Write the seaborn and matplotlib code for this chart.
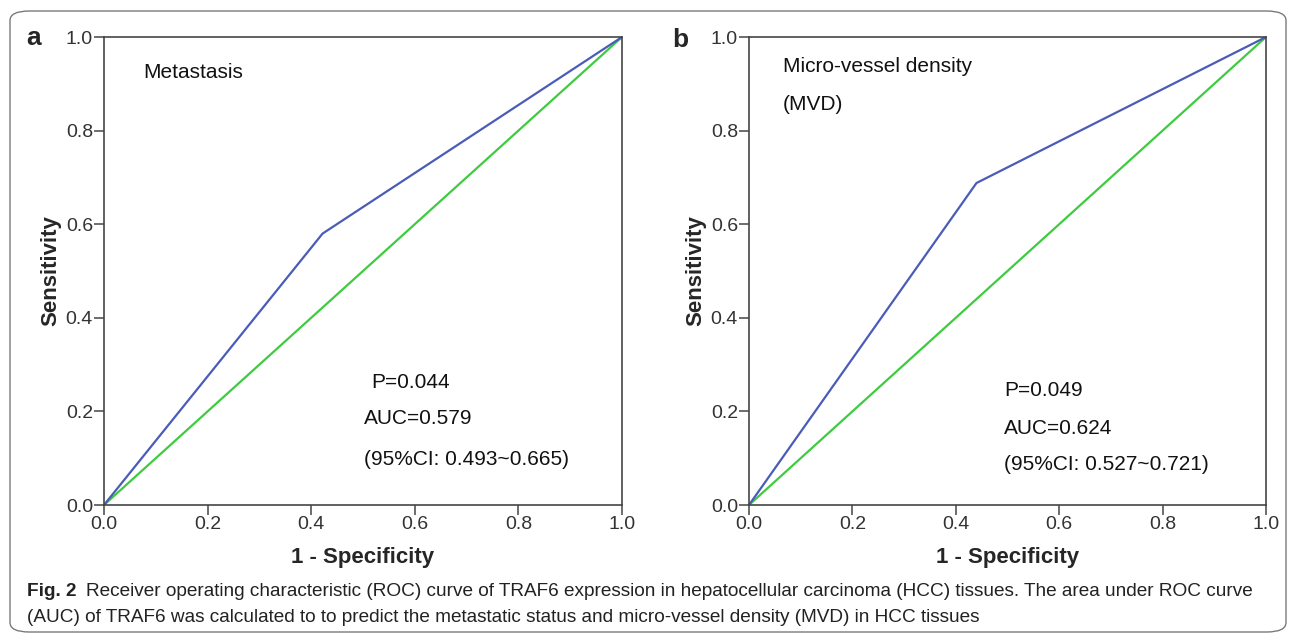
import numpy as np
import pandas as pd
import matplotlib
matplotlib.use("Agg")
import matplotlib.pyplot as plt
import seaborn as sns
from matplotlib.patches import FancyBboxPatch

# ROC points (1 - specificity, sensitivity)
fpr_a = [0.0, 0.422, 1.0]
tpr_a = [0.0, 0.580, 1.0]
fpr_b = [0.0, 0.440, 1.0]
tpr_b = [0.0, 0.688, 1.0]
ref_line = [0.0, 1.0]

ticks = [0.0, 0.2, 0.4, 0.6, 0.8, 1.0]
tick_labels = ["0.0", "0.2", "0.4", "0.6", "0.8", "1.0"]

titles_a = ["Metastasis"]
titles_b = ["Micro-vessel density", "(MVD)"]
stats_a = ["P=0.044", "AUC=0.579", "(95%CI: 0.493~0.665)"]
stats_b = ["P=0.049", "AUC=0.624", "(95%CI: 0.527~0.721)"]

sns.set_style("white")
plt.rcParams["font.family"] = ["Liberation Sans", "DejaVu Sans"]

blue = "#4b5cb8"
green = "#3fcb3f"
spine_c = "#454545"

fig = plt.figure(figsize=(12.95, 6.34), dpi=100)

# rounded frame around figure
frame = FancyBboxPatch((10 / 1295, 2 / 634), 1276 / 1295, 621 / 634,
                       boxstyle="round,pad=0,rounding_size=0.015",
                       transform=fig.transFigure, fill=False,
                       edgecolor="#7a7a7a", linewidth=1.0)
fig.patches.append(frame)

ax_a = fig.add_axes([104 / 1295, 129 / 634, 518 / 1295, 468 / 634])
ax_b = fig.add_axes([749 / 1295, 129 / 634, 517 / 1295, 468 / 634])


def draw_panel(ax, fpr, tpr):
    df = pd.DataFrame({"fpr": fpr, "tpr": tpr})
    ref = pd.DataFrame({"x": ref_line, "y": ref_line})
    sns.lineplot(data=ref, x="x", y="y", ax=ax, color=green, lw=1.6,
                 estimator=None, sort=False)
    sns.lineplot(data=df, x="fpr", y="tpr", ax=ax, color=blue, lw=1.6,
                 estimator=None, sort=False)
    ax.set_xlim(0, 1)
    ax.set_ylim(0, 1)
    ax.set_xticks(ticks)
    ax.set_yticks(ticks)
    ax.set_xticklabels(tick_labels)
    ax.set_yticklabels(tick_labels)
    ax.tick_params(axis="both", direction="out", length=7, width=1.1,
                   color=spine_c, labelsize=14, labelcolor="#333333", pad=1,
                   bottom=True, left=True)
    for s in ax.spines.values():
        s.set_color(spine_c)
        s.set_linewidth(1.2)
    ax.set_xlabel("1 - Specificity", fontsize=16, fontweight="bold", labelpad=10)
    ax.set_ylabel("Sensitivity", fontsize=16, fontweight="bold", labelpad=3)


draw_panel(ax_a, fpr_a, tpr_a)
draw_panel(ax_b, fpr_b, tpr_b)

# panel annotations
ax_a.text(0.075, 0.925, titles_a[0], transform=ax_a.transAxes, fontsize=15,
          va="center", ha="left", color="#111111")
for i, (t, y) in enumerate(zip(stats_a, [0.261, 0.184, 0.098])):
    ax_a.text(0.515 if i == 0 else 0.501, y, t, transform=ax_a.transAxes,
              fontsize=15, va="center", ha="left", color="#111111")

ax_b.text(0.066, 0.937, titles_b[0], transform=ax_b.transAxes, fontsize=15,
          va="center", ha="left", color="#111111")
ax_b.text(0.066, 0.856, titles_b[1], transform=ax_b.transAxes, fontsize=15,
          va="center", ha="left", color="#111111")
for t, y in zip(stats_b, [0.244, 0.163, 0.086]):
    ax_b.text(0.493, y, t, transform=ax_b.transAxes, fontsize=15,
              va="center", ha="left", color="#111111")

# panel letters
fig.text(26 / 1295, 1 - 38 / 634, "a", fontsize=19, fontweight="bold",
         va="center", ha="left")
fig.text(672 / 1295, 1 - 40 / 634, "b", fontsize=19, fontweight="bold",
         va="center", ha="left")

# caption
cap_font = ["Liberation Sans Narrow", "Liberation Sans", "DejaVu Sans"]
cap1 = ("Receiver operating characteristic (ROC) curve of TRAF6 expression in "
        "hepatocellular carcinoma (HCC) tissues. The area under ROC curve")
cap2 = ("(AUC) of TRAF6 was calculated to to predict the metastatic status and "
        "micro-vessel density (MVD) in HCC tissues")
fig_lbl = fig.text(27 / 1295, 1 - 591 / 634, "Fig. 2", fontsize=13.7,
                   fontweight="bold", family=cap_font, va="center", ha="left",
                   color="#222222")
fig.canvas.draw()
bb = fig_lbl.get_window_extent()
fig.text((bb.x1 + 10) / 1295, 1 - 591 / 634, cap1, fontsize=13.7,
         family=cap_font, va="center", ha="left", color="#222222")
fig.text(27 / 1295, 1 - 617 / 634, cap2, fontsize=13.7, family=cap_font,
         va="center", ha="left", color="#222222")

fig.savefig("out.png", dpi=100)
